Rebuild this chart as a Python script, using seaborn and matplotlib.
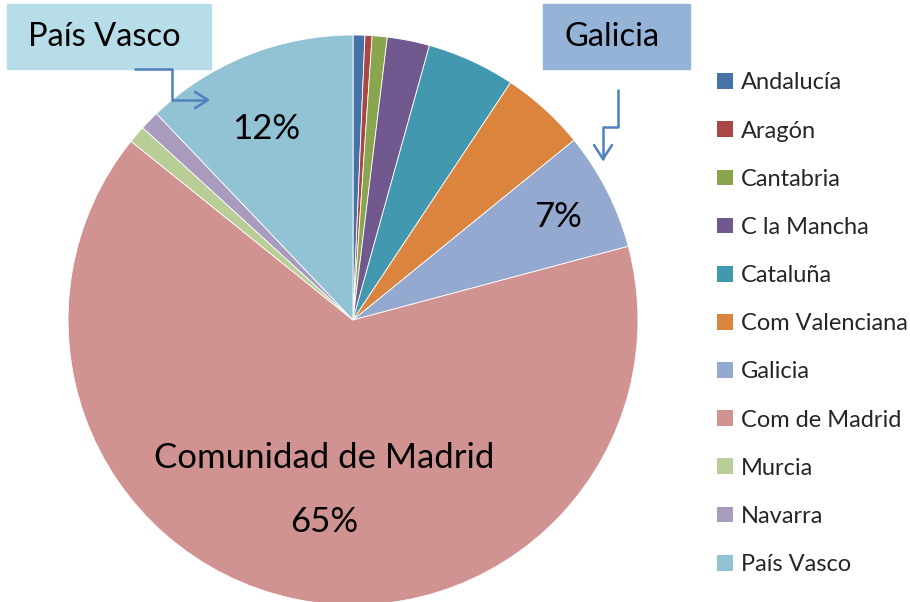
import matplotlib.pyplot as plt
import seaborn as sns
from matplotlib.lines import Line2D
from matplotlib.patches import Patch

# Data (percent shares, clockwise from 12 o'clock)
regions = ["Andalucía", "Aragón", "Cantabria", "C la Mancha", "Cataluña",
           "Com Valenciana", "Galicia", "Com de Madrid", "Murcia", "Navarra", "País Vasco"]
shares = [0.67, 0.4, 0.85, 2.4, 5.0, 4.8, 6.7, 64.9, 1.0, 1.1, 12.1]
colors = ["#4572A7", "#AA4643", "#89A54E", "#71588F", "#4198AF", "#DB843D",
          "#93A9CF", "#D19392", "#B9CD96", "#A99BBD", "#92C3D4"]

sns.set_style("white")
plt.rcParams['font.family'] = ['Lato', 'DejaVu Sans']

W, H = 910, 602
fig = plt.figure(figsize=(W / 100, H / 100), dpi=100)


def fx(px):
    return px / W


def fy(py):
    return 1 - py / H


# pie axes: centre (353, 320) px, radius 285 px
cx, cy, r = 353, 320, 285
ax = fig.add_axes([fx(cx - r), fy(cy + r), 2 * r / W, 2 * r / H])
ax.pie(shares, colors=sns.color_palette(colors), startangle=90, counterclock=False,
       radius=1, wedgeprops=dict(edgecolor="white", linewidth=0.6))
ax.set_xlim(-1, 1)
ax.set_ylim(-1, 1)
ax.axis("off")

# labels inside the slices
ax.text(-0.305, 0.67, "12%", fontsize=25, ha="center", va="center", color="black")
ax.text(0.72, 0.36, "7%", fontsize=25, ha="center", va="center", color="black")
ax.text(-0.1, -0.485, "Comunidad de Madrid", fontsize=25, ha="center", va="center", color="black")
ax.text(-0.1, -0.71, "65%", fontsize=25, ha="center", va="center", color="black")

# call-out boxes
fig.text(fx(104), fy(37), "País Vasco", fontsize=23.5, ha="center", va="center", color="black")
fig.add_artist(plt.Rectangle((fx(7), fy(69)), fx(204), 65 / H, color="#B7DDE8",
                             transform=fig.transFigure, zorder=0))
fig.text(fx(612), fy(37), "Galicia", fontsize=23.5, ha="center", va="center", color="black")
fig.add_artist(plt.Rectangle((fx(543), fy(69)), fx(147), 65 / H, color="#95B3D7",
                             transform=fig.transFigure, zorder=0))

# bent arrows
arrow_col = "#4F81BD"
fig.add_artist(Line2D([fx(135), fx(172), fx(172), fx(207)], [fy(69), fy(69), fy(100), fy(100)],
                      color=arrow_col, lw=1.8))
fig.add_artist(Line2D([fx(195), fx(208), fx(195)], [fy(92), fy(100), fy(108)],
                      color=arrow_col, lw=1.8))
fig.add_artist(Line2D([fx(618), fx(618), fx(603), fx(603)], [fy(90), fy(127), fy(127), fy(159)],
                      color=arrow_col, lw=1.8))
fig.add_artist(Line2D([fx(594), fx(603), fx(612)], [fy(145), fy(159), fy(145)],
                      color=arrow_col, lw=1.8))

# legend
handles = [Patch(facecolor=c, edgecolor="none") for c in colors]
fig.legend(handles, regions, loc="upper left", bbox_to_anchor=(fx(708), fy(63)),
           frameon=False, fontsize=17, handlelength=0.65, handleheight=0.65,
           handletextpad=0.35, labelspacing=1.15, borderaxespad=0)

fig.savefig("out.png", dpi=100)
